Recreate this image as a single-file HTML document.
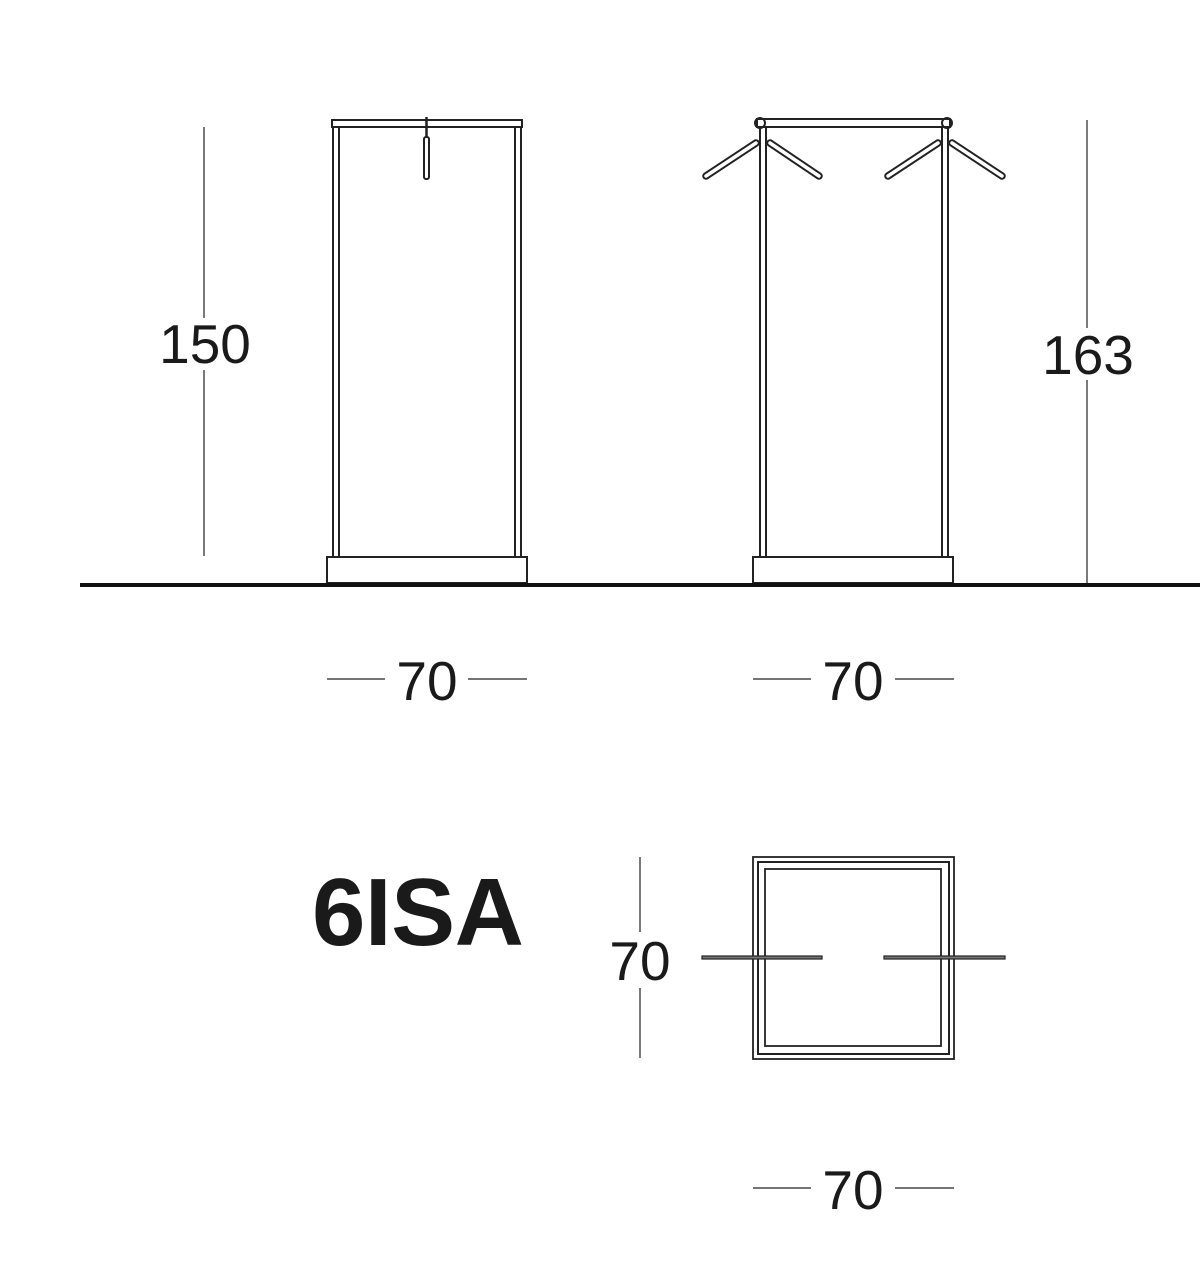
<!DOCTYPE html>
<html><head><meta charset="utf-8"><style>
html,body{margin:0;padding:0;background:#fff;width:1200px;height:1270px;overflow:hidden}
svg{display:block}
text{font-family:"Liberation Sans",sans-serif;fill:#1a1a1a}
</style></head><body>
<svg width="1200" height="1270" viewBox="0 0 1200 1270" xmlns="http://www.w3.org/2000/svg">
<g fill="none" stroke="#222" stroke-width="2">
<rect x="332" y="120" width="190" height="7"/>
<line x1="333" y1="127" x2="333" y2="557"/><line x1="339" y1="127" x2="339" y2="557"/>
<line x1="515" y1="127" x2="515" y2="557"/><line x1="521" y1="127" x2="521" y2="557"/>
<rect x="327" y="557" width="200" height="26"/>
<rect x="424" y="137" width="5" height="42" rx="2"/>
<line x1="426.5" y1="117" x2="426.5" y2="137" stroke-width="2.5"/>
<rect x="757" y="119" width="193" height="8"/>
<circle cx="760" cy="123" r="5"/><circle cx="947" cy="123" r="5"/>
<line x1="760" y1="127" x2="760" y2="557"/><line x1="766" y1="127" x2="766" y2="557"/>
<line x1="942" y1="127" x2="942" y2="557"/><line x1="948" y1="127" x2="948" y2="557"/>
<rect x="753" y="557" width="200" height="26"/>
<g stroke-width="7.5" stroke-linecap="round"><path d="M756 143 L706 176 M770 143 L819 176 M938 143 L888 176 M952 143 L1002 176"/></g>
<g stroke="#fff" stroke-width="3.5" stroke-linecap="round"><path d="M756 143 L706 176 M770 143 L819 176 M938 143 L888 176 M952 143 L1002 176"/></g>
<line x1="204" y1="127" x2="204" y2="318" stroke-width="1.2"/><line x1="204" y1="370" x2="204" y2="556" stroke-width="1.2"/>
<line x1="1087" y1="120" x2="1087" y2="328" stroke-width="1.2"/><line x1="1087" y1="380" x2="1087" y2="583" stroke-width="1.2"/>
<line x1="327" y1="679" x2="385" y2="679" stroke-width="1.2"/><line x1="468" y1="679" x2="527" y2="679" stroke-width="1.2"/>
<line x1="753" y1="679" x2="811" y2="679" stroke-width="1.2"/><line x1="895" y1="679" x2="954" y2="679" stroke-width="1.2"/>
<line x1="753" y1="1188" x2="811" y2="1188" stroke-width="1.2"/><line x1="895" y1="1188" x2="954" y2="1188" stroke-width="1.2"/>
<line x1="640" y1="857" x2="640" y2="932" stroke-width="1.2"/><line x1="640" y1="988" x2="640" y2="1058" stroke-width="1.2"/>
<rect x="753" y="857" width="201" height="202" stroke-width="1.8"/>
<rect x="758" y="862" width="191" height="192" stroke-width="2"/>
<rect x="765" y="869" width="176" height="177" stroke-width="1.8"/>
<rect x="702" y="956" width="120" height="3" fill="#777" stroke-width="1.2"/>
<rect x="884" y="956" width="121" height="3" fill="#777" stroke-width="1.2"/>
</g>
<line x1="80" y1="585" x2="1200" y2="585" stroke="#111" stroke-width="4"/>
<g font-size="55">
<text x="205" y="363" text-anchor="middle">150</text>
<text x="1088" y="374" text-anchor="middle">163</text>
<text x="427" y="700" text-anchor="middle">70</text>
<text x="853" y="700" text-anchor="middle">70</text>
<text x="640" y="980" text-anchor="middle">70</text>
<text x="853" y="1209" text-anchor="middle">70</text>
</g>
<text x="312" y="945" font-size="96" font-weight="bold" letter-spacing="-0.5">6ISA</text>
</svg>
</body></html>
